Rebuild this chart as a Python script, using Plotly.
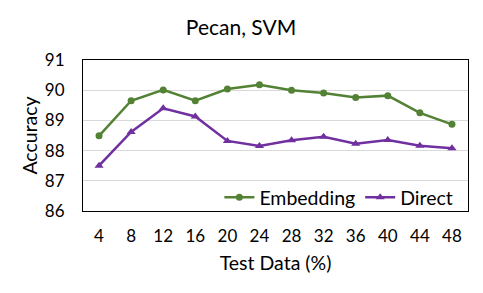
import plotly.graph_objects as go

test_data = ["4", "8", "12", "16", "20", "24", "28", "32", "36", "40", "44", "48"]
embedding = [88.49, 89.65, 90.01, 89.65, 90.04, 90.18, 90.00, 89.91, 89.76, 89.82, 89.25, 88.87]
direct = [87.50, 88.62, 89.40, 89.13, 88.32, 88.15, 88.34, 88.46, 88.23, 88.35, 88.16, 88.08]
y_ticks = [86, 87, 88, 89, 90, 91]

FONT = "Lato"
W, H = 475, 285  # page body has an 8px default margin

fig = go.Figure()
fig.add_trace(go.Scatter(
    x=test_data, y=embedding, name="Embedding", mode="lines+markers",
    line=dict(color="#548235", width=2.5),
    marker=dict(symbol="circle", size=7, color="#548235"),
))
fig.add_trace(go.Scatter(
    x=test_data, y=direct, name="Direct", mode="lines+markers",
    line=dict(color="#7030A0", width=2.5),
    marker=dict(symbol="triangle-up", size=8, color="#7030A0"),
))

fig.update_layout(
    width=W, height=H,
    margin=dict(l=75, r=15, t=52, b=82, autoexpand=False),
    paper_bgcolor="white", plot_bgcolor="white",
    font=dict(family=FONT, color="#000000"),
    title=dict(text="Pecan, SVM", x=(241 - 8) / W, xanchor="center", y=1 - 20 / H, yanchor="middle",
               font=dict(family=FONT, size=21, color="#000000")),
    showlegend=True,
    legend=dict(orientation="h", x=0.975, xanchor="right", y=-0.04, yanchor="bottom",
                bgcolor="rgba(0,0,0,0)", font=dict(family=FONT, size=19.5, color="#000000"),
                itemwidth=30, tracegroupgap=0),
    xaxis=dict(
        type="category", range=[-0.5, 11.5], automargin=False,
        showgrid=False, showline=True, linecolor="#000000", linewidth=1, mirror=True,
        ticks="outside", ticklen=10, tickcolor="rgba(0,0,0,0)",
        tickfont=dict(family=FONT, size=17, color="#000000"),
        title=dict(text="Test Data (%)", font=dict(family=FONT, size=19.5, color="#000000"), standoff=10),
    ),
    yaxis=dict(
        range=[86, 91], tickvals=y_ticks, ticktext=[str(v) for v in y_ticks], automargin=False,
        showgrid=True, gridcolor="#D9D9D9", gridwidth=1,
        showline=True, linecolor="#000000", linewidth=1, mirror=True,
        ticks="outside", ticklen=14, tickcolor="rgba(0,0,0,0)",
        tickfont=dict(family=FONT, size=17, color="#000000"), zeroline=False,
        title=dict(text="Accuracy", font=dict(family=FONT, size=19.5, color="#000000"), standoff=2),
    ),
)

fig.write_html("out.html")
